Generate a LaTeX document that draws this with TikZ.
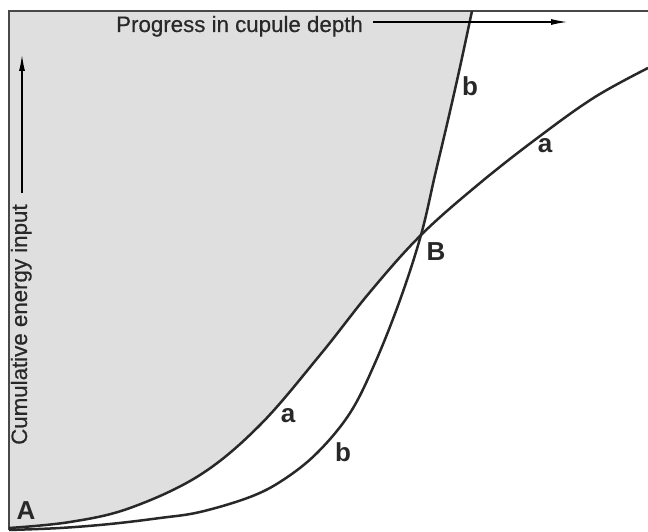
\documentclass[tikz,border=0pt]{standalone}
\usepackage{fontspec}
\setmainfont{Liberation Sans}
\newfontfamily\titlefont{Liberation Sans}[BoldFont={Liberation Sans}, BoldFeatures={FakeBold=0.5}]
\usetikzlibrary{arrows.meta}
\definecolor{zonegrey}{RGB}{223,223,223}
\definecolor{ink}{RGB}{40,40,40}

\begin{document}
\begin{tikzpicture}[
		x=1pt, y=-1pt,
		curve/.style={ink, line width=2.5pt, line join=round, smooth, tension=0.6},
		frame/.style={ink!85, line width=1.3pt},
		axis/.style={-{Latex[length=16pt, width=6pt]}, line width=1.1pt, black},
		lbl/.style={font=\fontsize{26}{30}\selectfont\bfseries, inner sep=0pt, text=ink},
		title/.style={font=\titlefont\bfseries\fontsize{22.3}{26}\selectfont, inner sep=0pt, text=ink}
	]
	\useasboundingbox (0,0) rectangle (648,532);

	% grey zone: above curve a and left of curve b
	\begin{scope}
		\clip plot[smooth, tension=0.6] coordinates {(9,528) (70,522) (130,508) (200,475) (260,425) (320,355) (370,292) (421,235) (480,183) (540,136) (595,97) (648,68)}
		-- (648,0) -- (0,0) -- cycle;
		\fill[zonegrey] plot[smooth, tension=0.6] coordinates {(9,530) (60,528) (110,524) (160,518) (200,512) (250,497) (283,480) (317,453) (350,413) (375,363) (400,300) (421,235) (435,175) (448,120) (460,67) (472,11)}
		-- (9,11) -- cycle;
	\end{scope}

	\draw[frame] (9,530) -- (9,11) -- (648,11);

	% curve a
	\draw[curve] plot coordinates {(9,528) (70,522) (130,508) (200,475) (260,425) (320,355) (370,292) (421,235) (480,183) (540,136) (595,97) (648,68)};
	% curve b
	\draw[curve] plot coordinates {(9,530) (60,528) (110,524) (160,518) (200,512) (250,497) (283,480) (317,453) (350,413) (375,363) (400,300) (421,235) (435,175) (448,120) (460,67) (472,11)};

	% axis titles and arrows
	\node[title, anchor=base west] (xtitle) at (116,32) {Progress in cupule depth};
	\node[title, anchor=base west, rotate=90] (ytitle) at (27,445) {Cumulative energy input};
	\coordinate (xstart) at (373,22);
	\coordinate (xtip) at (567,22);
	\coordinate (ystart) at (22,193);
	\coordinate (ytip) at (22,55);
	\draw[axis] (xstart) -- (xtip);
	\draw[axis] (ystart) -- (ytip);

	% point and curve labels
	\node[lbl] (ptA) at (26,511) {A};
	\node[lbl] (ptB) at (436,252) {B};
	\node[lbl] (alow) at (288,416) {a};
	\node[lbl] (ahigh) at (545,146) {a};
	\node[lbl] (blow) at (343,452) {b};
	\node[lbl] (bhigh) at (470,86) {b};
\end{tikzpicture}
\end{document}
